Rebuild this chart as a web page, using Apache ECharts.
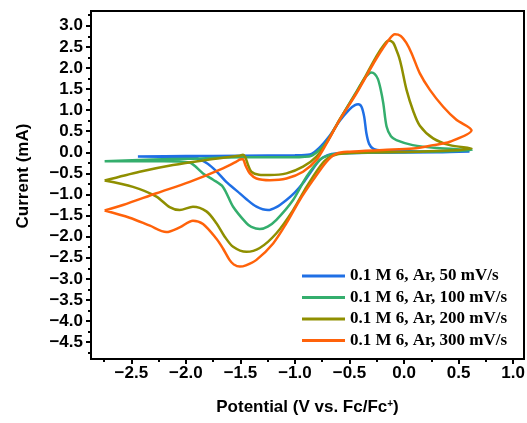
<!DOCTYPE html>
<html>
<head>
<meta charset="utf-8">
<script src="https://cdn.jsdelivr.net/npm/echarts@6/dist/echarts.min.js"></script>
<style>
	html, body { margin: 0; padding: 0; background: #fff; }
	#chart { width: 527px; height: 423px; }
</style>
</head>
<body>
<div id="chart"></div>
<script>
	// CV curves: potential (V vs Fc/Fc+) / current (mA)
	var legendNames = ['0.1 M 6, Ar, 50 mV/s', '0.1 M 6, Ar, 100 mV/s', '0.1 M 6, Ar, 200 mV/s', '0.1 M 6, Ar, 300 mV/s'];
	var lineColors = ['#1f6fe5', '#34ae6d', '#8f8f00', '#ff620a'];

	var potential50 = [-2.44, -2.0, -1.5, -1.0, -0.864, -0.78, -0.68, -0.589, -0.5, -0.45, -0.42, -0.39, -0.365, -0.345, -0.32, -0.28, -0.2, 0.0, 0.3, 0.6,
		0.3, -0.3, -0.62, -0.7, -0.772, -0.85, -0.926, -1.0, -1.078, -1.17, -1.247, -1.353, -1.45, -1.53, -1.63, -1.72, -1.80, -1.904, -2.1, -2.44];
	var current50 = [-0.10, -0.09, -0.08, -0.07, -0.05, 0.10, 0.40, 0.75, 1.02, 1.12, 1.14, 1.08, 0.84, 0.45, 0.20, 0.08, 0.04, 0.03, 0.02, 0.02,
		0.0, -0.01, -0.03, -0.07, -0.18, -0.45, -0.73, -0.95, -1.13, -1.30, -1.37, -1.29, -1.10, -0.92, -0.70, -0.45, -0.27, -0.14, -0.11, -0.10];

	var potential100 = [-2.745, -2.3, -1.965, -1.5, -1.1, -0.87, -0.80, -0.71, -0.59, -0.45, -0.36, -0.32, -0.30, -0.27, -0.24, -0.215, -0.19, -0.16, -0.12, -0.07, 0.08, 0.3, 0.62,
		0.3, -0.2, -0.6, -0.7, -0.772, -0.894, -1.017, -1.17, -1.25, -1.323, -1.40, -1.445, -1.567, -1.66, -1.75, -1.843, -1.92, -1.965, -2.2, -2.745];
	var current100 = [-0.21, -0.17, -0.15, -0.12, -0.12, -0.10, 0.0, 0.24, 0.77, 1.38, 1.76, 1.87, 1.89, 1.86, 1.74, 1.50, 1.16, 0.61, 0.38, 0.29, 0.17, 0.10, 0.05,
		0.02, 0.0, -0.03, -0.08, -0.18, -0.58, -1.13, -1.60, -1.76, -1.82, -1.77, -1.68, -1.29, -0.82, -0.65, -0.50, -0.32, -0.24, -0.21, -0.21];

	var potential200 = [-2.745, -2.424, -2.118, -1.812, -1.6, -1.506, -1.476, -1.455, -1.43, -1.40, -1.33, -1.23, -1.078, -0.926, -0.803, -0.71, -0.59, -0.436, -0.252, -0.18, -0.14, -0.10, -0.069, -0.045, -0.023, 0.023, 0.084, 0.145, 0.267, 0.42, 0.619,
		0.42, 0.11, -0.3, -0.6, -0.7, -0.772, -0.894, -1.017, -1.17, -1.323, -1.445, -1.567, -1.644, -1.72, -1.812, -1.935, -2.057, -2.149, -2.27, -2.485, -2.745];
	var current200 = [-0.67, -0.46, -0.30, -0.18, -0.11, -0.08, -0.06, -0.12, -0.30, -0.46, -0.53, -0.54, -0.50, -0.34, -0.10, 0.23, 0.78, 1.42, 2.28, 2.56, 2.65, 2.60, 2.42, 2.25, 2.03, 1.48, 0.98, 0.63, 0.33, 0.17, 0.09,
		0.04, 0.015, 0.0, -0.04, -0.14, -0.34, -0.82, -1.37, -1.92, -2.27, -2.36, -2.24, -2.0, -1.68, -1.40, -1.29, -1.37, -1.30, -1.05, -0.82, -0.67];

	var potential300 = [-2.745, -2.577, -2.27, -1.965, -1.66, -1.537, -1.505, -1.48, -1.45, -1.414, -1.353, -1.23, -1.078, -0.926, -0.803, -0.71, -0.59, -0.436, -0.252, -0.13, -0.084, -0.03, 0.02, 0.069, 0.145, 0.237, 0.359, 0.48, 0.619,
		0.42, 0.267, 0.084, -0.192, -0.497, -0.62, -0.71, -0.834, -0.956, -1.078, -1.2, -1.353, -1.45, -1.506, -1.56, -1.6, -1.66, -1.72, -1.843, -1.935, -2.057, -2.18, -2.33, -2.516, -2.745];
	var current300 = [-1.38, -1.25, -0.97, -0.70, -0.38, -0.22, -0.17, -0.16, -0.33, -0.50, -0.62, -0.66, -0.62, -0.46, -0.18, 0.21, 0.77, 1.40, 2.23, 2.70, 2.80, 2.76, 2.60, 2.35, 1.87, 1.48, 1.08, 0.77, 0.52,
		0.25, 0.17, 0.09, 0.055, 0.015, -0.03, -0.22, -0.66, -1.13, -1.68, -2.16, -2.55, -2.68, -2.71, -2.66, -2.55, -2.28, -2.05, -1.70, -1.62, -1.78, -1.89, -1.74, -1.55, -1.38];

	// tick positions
	var xTicks = [-2.5, -2.0, -1.5, -1.0, -0.5, 0.0, 0.5, 1.0];
	var xMinorTicks = [-2.75, -2.25, -1.75, -1.25, -0.75, -0.25, 0.25, 0.75];
	var yTicks = [-4.5, -4.0, -3.5, -3.0, -2.5, -2.0, -1.5, -1.0, -0.5, 0.0, 0.5, 1.0, 1.5, 2.0, 2.5, 3.0];
	var yMinorTicks = [-4.75, -4.25, -3.75, -3.25, -2.75, -2.25, -1.75, -1.25, -0.75, -0.25, 0.25, 0.75, 1.25, 1.75, 2.25, 2.75, 3.25];

	var curves = [[potential50, current50], [potential100, current100], [potential200, current200], [potential300, current300]];

	function pairUp(xs, ys) {
		var out = [];
		for (var i = 0; i < xs.length; i++) out.push([xs[i], ys[i]]);
		return out;
	}

	function fmt(v) {
		return (v < 0 ? '\u2212' : '') + Math.abs(v).toFixed(1);
	}

	var sansBold = { fontFamily: 'Liberation Sans', fontWeight: 'bold', color: '#000' };
	var blackLine = { color: '#000', width: 2 };

	var series = curves.map(function(c, k) {
		return {
			name: legendNames[k],
			type: 'line',
			data: pairUp(c[0], c[1]),
			showSymbol: false,
			smooth: 0.3,
			lineStyle: { color: lineColors[k], width: 2.5 },
			itemStyle: { color: lineColors[k] },
			animation: false
		};
	});

	var chart = echarts.init(document.getElementById('chart'));
	chart.setOption({
		animation: false,
		grid: {
			left: 91, top: 11, right: 3, bottom: 64,
			show: true, borderColor: '#000', borderWidth: 2,
			containLabel: false, outerBoundsMode: 'none'
		},
		legend: {
			orient: 'vertical',
			left: 297, top: 262,
			icon: 'rect',
			itemWidth: 43, itemHeight: 3,
			itemGap: 3.5,
			data: legendNames,
			textStyle: { fontFamily: 'Liberation Serif', fontWeight: 'bold', fontSize: 17, lineHeight: 18, color: '#000' }
		},
		xAxis: [{
			type: 'value', min: -2.87, max: 1.1, position: 'bottom',
			axisLine: { show: true, onZero: false, lineStyle: blackLine },
			axisTick: { show: true, customValues: xTicks, length: 5, lineStyle: blackLine },
			axisLabel: Object.assign({ customValues: xTicks, formatter: fmt, fontSize: 17, margin: 6 }, sansBold),
			splitLine: { show: false },
			name: 'Potential (V vs. Fc/Fc{sup|+})',
			nameLocation: 'middle', nameGap: 40,
			nameTextStyle: Object.assign({ fontSize: 17, rich: { sup: Object.assign({ fontSize: 10, verticalAlign: 'top' }, sansBold) } }, sansBold)
		}, {
			type: 'value', min: -2.87, max: 1.1, position: 'bottom',
			axisLine: { show: false, onZero: false },
			axisTick: { show: true, customValues: xMinorTicks, length: 3, lineStyle: blackLine },
			axisLabel: { show: false },
			splitLine: { show: false }
		}],
		yAxis: [{
			type: 'value', min: -4.9, max: 3.35, position: 'left',
			axisLine: { show: true, onZero: false, lineStyle: blackLine },
			axisTick: { show: true, customValues: yTicks, length: 5, lineStyle: blackLine },
			axisLabel: Object.assign({ customValues: yTicks, formatter: fmt, fontSize: 17, margin: 8 }, sansBold),
			splitLine: { show: false },
			name: 'Current (mA)',
			nameLocation: 'middle', nameGap: 59,
			nameTextStyle: Object.assign({ fontSize: 17, padding: [0, 0, 0, 18] }, sansBold)
		}, {
			type: 'value', min: -4.9, max: 3.35, position: 'left',
			axisLine: { show: false, onZero: false },
			axisTick: { show: true, customValues: yMinorTicks, length: 3, lineStyle: blackLine },
			axisLabel: { show: false },
			splitLine: { show: false }
		}],
		series: series
	});
</script>
</body>
</html>
